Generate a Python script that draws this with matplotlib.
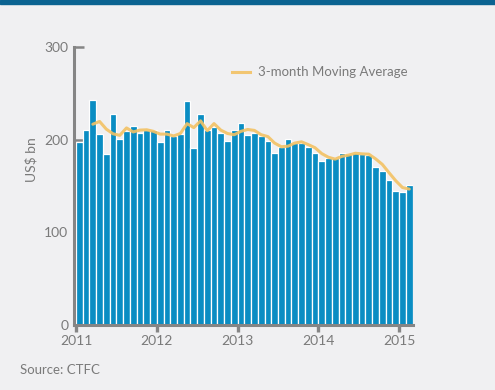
import matplotlib
matplotlib.use("Agg")
import matplotlib.pyplot as plt
from matplotlib.lines import Line2D
from matplotlib.patches import Rectangle
import numpy as np
import pandas as pd

# Monthly trade finance values, Jan 2011 - Feb 2015 (US$ bn)
values = [197, 210, 243, 206, 185, 228, 201, 209, 215, 207, 210, 210,
          198, 210, 204, 206, 242, 191, 228, 210, 214, 207, 199, 210,
          218, 205, 207, 204, 199, 186, 192, 201, 196, 196, 192, 186,
          177, 180, 180, 186, 184, 186, 184, 183, 171, 166, 156, 145,
          144, 151]
start_year = 2011
year_ticks = [2011, 2012, 2013, 2014, 2015]
y_ticks = [0, 100, 200, 300]
legend_label = "3-month Moving Average"
y_label = "US$ bn"
source = "Source: CTFC"

BG = "#F0F0F2"
BAR = "#0A8DC3"
LINE = "#F3C264"
GREY = "#858585"
TXT = "#7A7A7A"
FONT = "Lato"

plt.rcParams['font.family'] = [FONT, 'DejaVu Sans']

fig = plt.figure(figsize=(4.95, 3.9), dpi=100, facecolor=BG)
ax = fig.add_axes([74/495, (390-325)/390, (413-74)/495, (325-47)/390])
ax.set_facecolor(BG)

n = len(values)
x = start_year + np.arange(n) / 12.0
ax.bar(x, values, width=1/12, align='edge', color=BAR, edgecolor='white',
       linewidth=0.9, zorder=2)

ma = pd.Series(values).rolling(3).mean()
xc = x + 1/24
ax.plot(xc[2:], ma.values[2:], color=LINE, lw=2.2, alpha=0.9, zorder=3,
        solid_capstyle='round', solid_joinstyle='round')

ax.set_xlim(start_year - 0.025, start_year + n/12 + 0.005)
ax.set_ylim(0, 300)

for s in ['top', 'right']:
    ax.spines[s].set_visible(False)
for s in ['left', 'bottom']:
    ax.spines[s].set_color(GREY)
    ax.spines[s].set_linewidth(2.2)
    ax.spines[s].set_zorder(4)

ax.set_yticks(y_ticks)
ax.set_yticklabels([str(v) for v in y_ticks])
ax.set_xticks(year_ticks)
ax.set_xticklabels([str(v) for v in year_ticks])
ax.tick_params(axis='y', direction='in', length=7, width=1.8, color=GREY,
               labelcolor=TXT, labelsize=10, pad=4)
ax.tick_params(axis='x', direction='out', length=5, width=2.4, color=GREY,
               labelcolor=TXT, labelsize=10, pad=2)
for t in ax.yaxis.get_major_ticks():
    t.tick1line.set_zorder(5)

fig.text(31/495, (390-160)/390, y_label, rotation=90, ha='center', va='center',
         color=TXT, fontsize=10)
fig.text(20/495, (390-370)/390, source, ha='left', va='center',
         color=TXT, fontsize=9.5)

fig.add_artist(Line2D([232/495, 250/495], [(390-72)/390]*2, color=LINE, lw=2.2,
                      alpha=0.9))
fig.text(258/495, (390-72)/390, legend_label, ha='left', va='center',
         color=TXT, fontsize=9.5)

fig.add_artist(Rectangle((0, (390-4)/390), 1, 4/390, transform=fig.transFigure,
                         color="#0B6391", zorder=10))

fig.savefig("out.png", dpi=100, facecolor=BG)
